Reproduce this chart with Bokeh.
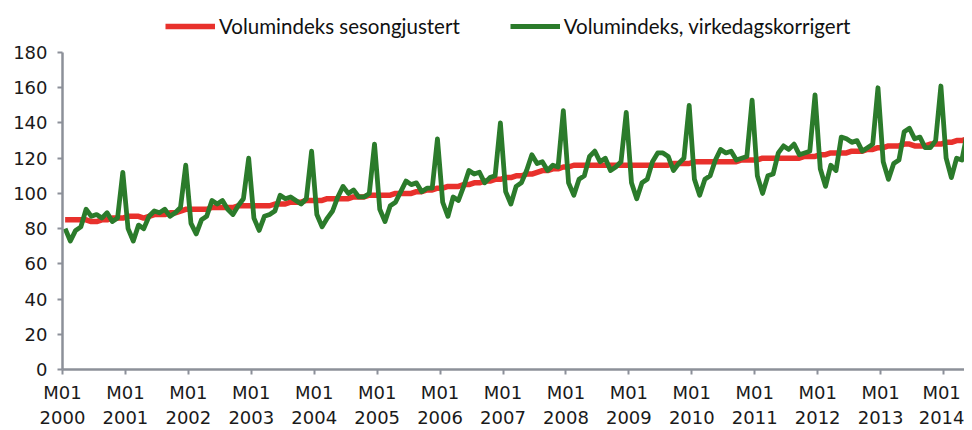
from bokeh.plotting import figure
from bokeh.models import Range1d, FixedTicker, Legend, LegendItem, ColumnDataSource
from bokeh.embed import file_html
from bokeh.resources import INLINE

years = list(range(2000, 2015))

# Volumindeks sesongjustert (monthly, Jan 2000 - Jun 2014)
sesongjustert = [
    85, 85, 85, 85, 85, 84, 84, 85, 85, 86, 86, 86,          # 2000
    87, 87, 87, 86, 87, 88, 88, 88, 89, 89, 90, 91,          # 2001
    91, 91, 91, 91, 92, 92, 92, 92, 92, 93, 93, 93,          # 2002
    93, 93, 93, 93, 94, 94, 94, 95, 95, 95, 96, 96,          # 2003
    96, 96, 97, 97, 97, 97, 97, 98, 98, 98, 99, 99,          # 2004
    99, 99, 99, 100, 100, 100, 100, 101, 101, 102, 102, 103,  # 2005
    103, 104, 104, 104, 105, 105, 106, 106, 107, 107, 108, 108,  # 2006
    109, 109, 110, 110, 111, 111, 112, 113, 113, 114, 114, 115,  # 2007
    115, 116, 116, 116, 116, 116, 116, 116, 116, 116, 116, 116,  # 2008
    116, 116, 116, 116, 116, 116, 116, 116, 117, 117, 117, 117,  # 2009
    118, 118, 118, 118, 118, 118, 118, 118, 118, 119, 119, 119,  # 2010
    119, 120, 120, 120, 120, 120, 120, 120, 120, 121, 121, 121,  # 2011
    122, 122, 123, 123, 123, 123, 124, 124, 124, 125, 125, 126,  # 2012
    126, 127, 127, 127, 128, 128, 127, 127, 127, 128, 128, 128,  # 2013
    129, 129, 130, 130, 131, 131,                              # 2014
]

# Volumindeks, virkedagskorrigert (monthly, Jan 2000 - Jun 2014)
virkedagskorrigert = [
    80, 73, 79, 81, 91, 87, 88, 86, 89, 84, 86, 112,          # 2000
    80, 73, 82, 80, 87, 90, 89, 91, 87, 89, 92, 116,          # 2001
    83, 77, 85, 87, 96, 94, 96, 91, 88, 93, 97, 120,          # 2002
    86, 79, 87, 88, 90, 99, 97, 98, 96, 94, 97, 124,          # 2003
    88, 81, 86, 90, 98, 104, 100, 102, 98, 98, 100, 128,      # 2004
    91, 84, 93, 95, 101, 107, 105, 106, 101, 103, 103, 131,   # 2005
    95, 87, 98, 96, 104, 113, 111, 112, 106, 109, 110, 140,   # 2006
    101, 94, 104, 106, 113, 122, 117, 118, 113, 116, 115, 147,  # 2007
    106, 99, 108, 110, 121, 124, 118, 120, 113, 115, 118, 146,  # 2008
    106, 97, 106, 108, 118, 123, 123, 121, 113, 117, 120, 150,  # 2009
    108, 99, 108, 110, 119, 125, 123, 124, 119, 120, 121, 153,  # 2010
    110, 100, 110, 111, 123, 127, 125, 128, 122, 123, 124, 156,  # 2011
    114, 104, 116, 113, 132, 131, 129, 130, 124, 126, 128, 160,  # 2012
    118, 108, 117, 119, 135, 137, 131, 132, 126, 126, 130, 161,  # 2013
    120, 109, 120, 119, 134, 140,                              # 2014
]

tick_labels = ["M01\n%d" % y for y in years]
y_ticks = [0, 20, 40, 60, 80, 100, 120, 140, 160, 180]

# month index -> centre of that month's slot (January tick at the slot start)
month_pos = [i + 0.5 for i in range(len(sesongjustert))]
src = ColumnDataSource(dict(x=month_pos, s=sesongjustert, v=virkedagskorrigert))

# headroom above 180 holds the legend; the y axis line stops at 180
p = figure(width=964, height=430, output_backend="svg", toolbar_location=None,
           x_range=Range1d(0, 172), y_range=Range1d(0, 209),
           min_border_left=62, min_border_right=0, min_border_top=1,
           min_border_bottom=61)
p.outline_line_color = None
p.xgrid.visible = False
p.ygrid.visible = False
p.background_fill_color = "white"
p.border_fill_color = "white"

r_red = p.line("x", "s", source=src, line_color="#e8312c", line_width=5.5)
r_green = p.line("x", "v", source=src, line_color="#2b7b2b", line_width=4.8,
                 line_join="round")

axis_col = "#8c9099"
for ax in (p.xaxis[0], p.yaxis[0]):
    ax.axis_line_color = axis_col
    ax.axis_line_width = 2.5
    ax.major_tick_line_color = axis_col
    ax.major_tick_line_width = 2
    ax.major_tick_out = 5
    ax.major_tick_in = 0
    ax.minor_tick_line_color = None
    ax.major_label_text_font = "DejaVu Sans"
    ax.major_label_text_font_size = "18px"
    ax.major_label_text_color = "#1a1a1a"

p.xaxis.ticker = FixedTicker(ticks=[12 * (y - years[0]) for y in years])
p.xaxis.major_label_overrides = {12 * (y - years[0]): lab for y, lab in zip(years, tick_labels)}
p.xaxis.major_label_standoff = 7

p.yaxis.ticker = FixedTicker(ticks=y_ticks)
p.yaxis.major_label_standoff = 10
p.yaxis.bounds = (0, 180)

legend = Legend(items=[
    LegendItem(label="Volumindeks sesongjustert", renderers=[r_red]),
    LegendItem(label="Volumindeks, virkedagskorrigert", renderers=[r_green]),
], orientation="horizontal", location=(103, 331))
legend.label_text_font = "Lato"
legend.label_text_font_size = "20.5px"
legend.label_text_color = "#111111"
legend.glyph_width = 50
legend.label_standoff = 4
legend.spacing = 50
legend.padding = 2
legend.margin = 0
legend.border_line_color = None
legend.background_fill_alpha = 0
p.add_layout(legend)

open("out.html", "w").write(file_html(p, INLINE))
